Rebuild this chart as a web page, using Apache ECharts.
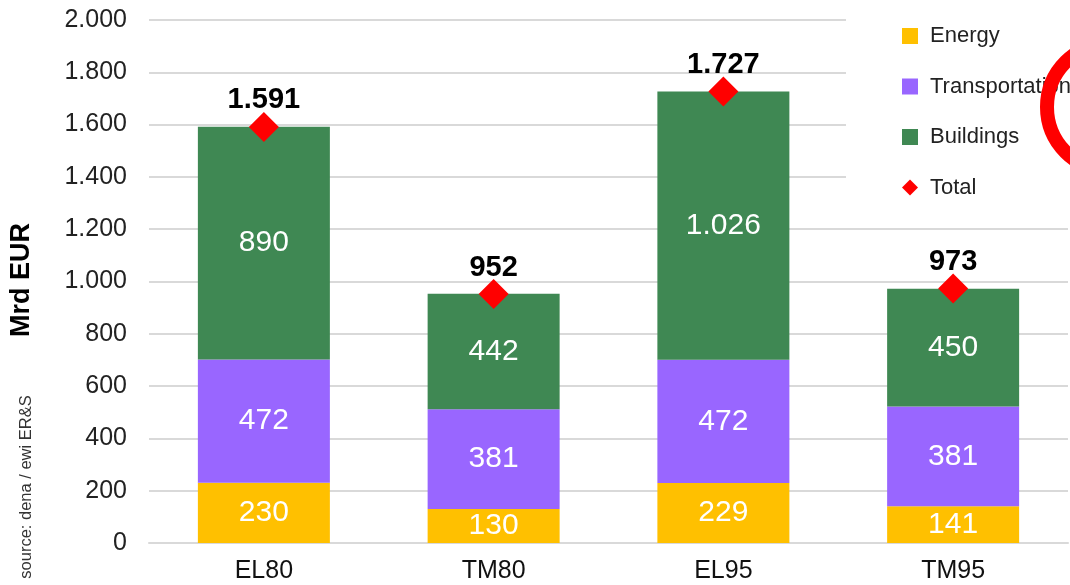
<!DOCTYPE html>
<html>
<head>
<meta charset="utf-8">
<script src="https://cdn.jsdelivr.net/npm/echarts@6/dist/echarts.min.js"></script>
<style>
html,body{margin:0;padding:0;background:#fff;}
#chart{width:1070px;height:585px;}
</style>
</head>
<body>
<div id="chart"></div>
<script>
const categories = ['EL80', 'TM80', 'EL95', 'TM95'];
const energy = [230, 130, 229, 141];
const transportation = [472, 381, 472, 381];
const buildings = [890, 442, 1026, 450];
const totals = [1591, 952, 1727, 973];
const seriesNames = ['Energy', 'Transportation', 'Buildings', 'Total'];

const FONT = '"Liberation Sans", Arial, sans-serif';
function fmt(v) {
  return String(v).replace(/\B(?=(\d{3})+(?!\d))/g, '.');
}

const chart = echarts.init(document.getElementById('chart'), null, {renderer: 'canvas'});

const barLabel = {
  show: true,
  position: 'inside',
  color: '#fff',
  fontSize: 30,
  fontFamily: FONT,
  formatter: p => fmt(p.value)
};

chart.setOption({
  animation: false,
  backgroundColor: '#fff',
  textStyle: {fontFamily: FONT},
  grid: {left: 149, right: 2, top: 20, bottom: 42, containLabel: false},
  legend: {
    orient: 'vertical',
    left: 846,
    top: 0,
    padding: [25, 20, 22, 56],
    backgroundColor: '#fff',
    itemWidth: 30,
    itemHeight: 16,
    itemGap: 28.5,
    textStyle: {fontSize: 22, color: '#222', fontFamily: FONT},
    data: [
      {name: seriesNames[0], icon: 'path://M0,0H10V10H0Z'},
      {name: seriesNames[1], icon: 'path://M0,0H10V10H0Z'},
      {name: seriesNames[2], icon: 'path://M0,0H10V10H0Z'},
      {name: seriesNames[3], icon: 'path://M5,0L10,5L5,10L0,5Z'}
    ],
    selectedMode: false,
    z: 5
  },
  xAxis: {
    type: 'category',
    data: categories,
    axisLine: {show: true, lineStyle: {color: '#d9d9d9', width: 2}},
    axisTick: {show: false},
    axisLabel: {fontSize: 25, color: '#111', margin: 16, fontFamily: FONT}
  },
  yAxis: {
    type: 'value',
    min: 0,
    max: 2000,
    interval: 200,
    axisLine: {show: false},
    axisTick: {show: false},
    splitLine: {lineStyle: {color: '#d9d9d9', width: 2}},
    axisLabel: {fontSize: 25, color: '#222', margin: 22, fontFamily: FONT, formatter: v => fmt(v)}
  },
  series: [
    {name: seriesNames[0], type: 'bar', stack: 'a', data: energy, barWidth: 132,
     itemStyle: {color: '#FFC000'}, label: barLabel},
    {name: seriesNames[1], type: 'bar', stack: 'a', data: transportation, barWidth: 132,
     itemStyle: {color: '#9966FF'}, label: barLabel},
    {name: seriesNames[2], type: 'bar', stack: 'a', data: buildings, barWidth: 132,
     itemStyle: {color: '#3F8853'}, label: barLabel},
    {name: seriesNames[3], type: 'scatter', data: totals, symbol: 'diamond', symbolSize: 30,
     itemStyle: {color: '#FF0000', opacity: 1}, z: 10,
     label: {show: true, position: 'top', distance: -3, color: '#000', fontSize: 29,
             fontWeight: 'bold', fontFamily: FONT, formatter: p => fmt(p.value)}}
  ],
  graphic: [
    {type: 'text', x: 22, y: 280, rotation: Math.PI / 2, z: 10,
     style: {text: 'Mrd EUR', fontSize: 27, fontWeight: 'bold', fill: '#000',
             fontFamily: FONT, align: 'center', verticalAlign: 'middle'}},
    {type: 'text', x: 26, y: 487, rotation: Math.PI / 2, z: 10,
     style: {text: 'source: dena / ewi ER&S', fontSize: 16.5, fill: '#333',
             fontFamily: FONT, align: 'center', verticalAlign: 'middle'}},
    {type: 'circle', shape: {cx: 1111, cy: 107, r: 64}, z: 100,
     style: {fill: 'none', stroke: '#FF0000', lineWidth: 14}}
  ]
});
</script>
</body>
</html>
